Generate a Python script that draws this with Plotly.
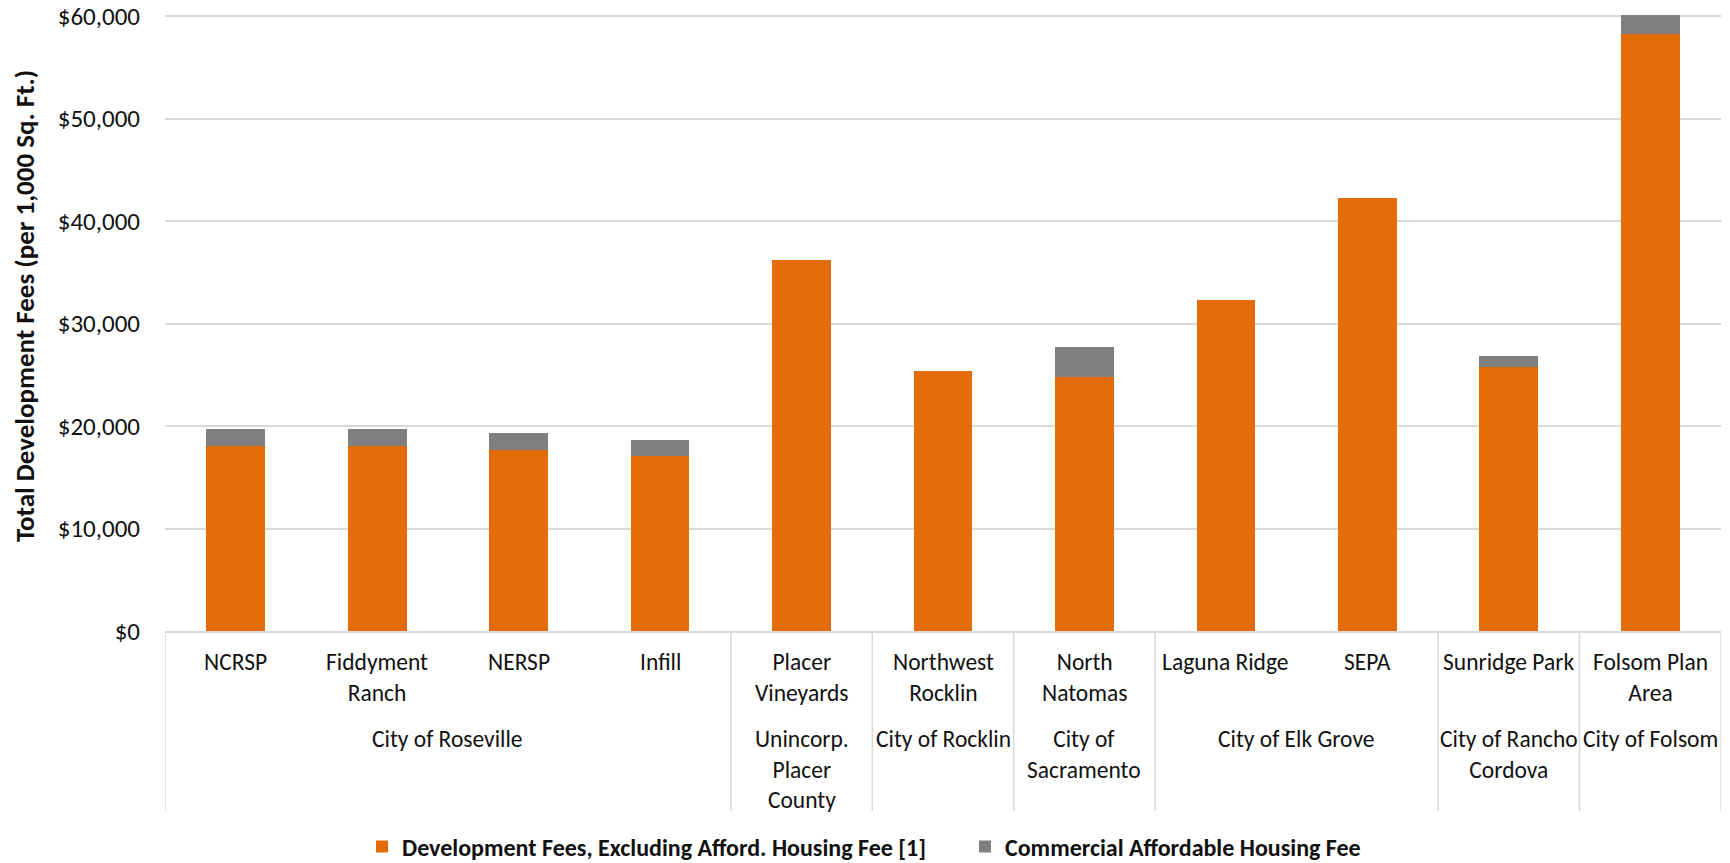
import plotly.graph_objects as go

# ---- data ----
areas = ["NCRSP", "Fiddyment Ranch", "NERSP", "Infill", "Placer Vineyards",
         "Northwest Rocklin", "North Natomas", "Laguna Ridge", "SEPA",
         "Sunridge Park", "Folsom Plan Area"]
area_labels = ["NCRSP", "Fiddyment<br>Ranch", "NERSP", "Infill", "Placer<br>Vineyards",
               "Northwest<br>Rocklin", "North<br>Natomas", "Laguna Ridge", "SEPA",
               "Sunridge Park", "Folsom Plan<br>Area"]
jurisdictions = ["City of Roseville", "City of Roseville", "City of Roseville", "City of Roseville",
                 "Unincorp. Placer County", "City of Rocklin", "City of Sacramento",
                 "City of Elk Grove", "City of Elk Grove", "City of Rancho Cordova",
                 "City of Folsom"]
jurisdiction_labels = {
    "City of Roseville": "City of Roseville",
    "Unincorp. Placer County": "Unincorp.<br>Placer<br>County",
    "City of Rocklin": "City of Rocklin",
    "City of Sacramento": "City of<br>Sacramento",
    "City of Elk Grove": "City of Elk Grove",
    "City of Rancho Cordova": "City of Rancho<br>Cordova",
    "City of Folsom": "City of Folsom",
}
dev_fees = [18100, 18100, 17700, 17050, 36170, 25380, 24760, 32330, 42220, 25740, 58260]
afford_fees = [1570, 1570, 1600, 1600, 0, 0, 2960, 0, 0, 1130, 1860]
y_ticks = [0, 10000, 20000, 30000, 40000, 50000, 60000]
y_tick_text = ["$0", "$10,000", "$20,000", "$30,000", "$40,000", "$50,000", "$60,000"]

series_names = ["Development Fees, Excluding Afford. Housing Fee [1]",
                "Commercial Affordable Housing Fee"]

# ---- style ----
FONT = "Carlito, Calibri, Lato, sans-serif"
ORANGE = "#E36C09"
GRAY = "#7F7F7F"
GRID = "#D9D9D9"
TXT = "#111111"

W, H = 1730, 863
ML, MR, MT, MB = 165, 9, 13, 232
PH = H - MT - MB
PW = W - ML - MR


def ypaper(px):
    return (H - MB - px) / PH


fig = go.Figure()
fig.add_bar(x=areas, y=dev_fees, name=series_names[0], marker_color=ORANGE,
            marker_line_width=0, width=0.415)
fig.add_bar(x=areas, y=afford_fees, name=series_names[1], marker_color=GRAY,
            marker_line_width=0, width=0.415)

annotations = []
for i, lab in enumerate(area_labels):
    annotations.append(dict(x=i, xref="x", y=ypaper(646), yref="paper", text=lab,
                            showarrow=False, xanchor="center", yanchor="top",
                            font=dict(family=FONT, size=23.5, color=TXT)))

# groups
groups = []
for i, j in enumerate(jurisdictions):
    if groups and groups[-1][0] == j:
        groups[-1][2] = i
    else:
        groups.append([j, i, i])

shapes = []
for j, s, e in groups:
    annotations.append(dict(x=(s + e) / 2, xref="x", y=ypaper(723), yref="paper",
                            text=jurisdiction_labels[j], showarrow=False,
                            xanchor="center", yanchor="top",
                            font=dict(family=FONT, size=23.5, color=TXT)))
    shapes.append(dict(type="line", xref="x", yref="paper", x0=s - 0.5, x1=s - 0.5,
                       y0=0, y1=ypaper(811), line=dict(color=GRID, width=1.5)))
shapes.append(dict(type="line", xref="x", yref="paper", x0=len(areas) - 0.5,
                   x1=len(areas) - 0.5, y0=0, y1=ypaper(811),
                   line=dict(color=GRID, width=1.5)))

# y-axis title
annotations.append(dict(x=(24 - ML) / PW, xref="paper", y=ypaper(306), yref="paper",
                        text="Total Development Fees (per 1,000 Sq. Ft.)", textangle=-90,
                        showarrow=False, xanchor="center", yanchor="middle",
                        font=dict(family=FONT, size=27, color=TXT, weight="bold")))

fig.update_layout(
    width=W, height=H,
    margin=dict(l=ML, r=MR, t=MT, b=MB, autoexpand=False),
    barmode="stack",
    plot_bgcolor="white", paper_bgcolor="white",
    font=dict(family=FONT, size=23.5, color=TXT),
    annotations=annotations,
    shapes=shapes,
    showlegend=True,
    legend=dict(orientation="h", x=(965 - ML) / PW, xanchor="center",
                y=ypaper(847), yanchor="middle",
                font=dict(family=FONT, size=24, color=TXT, weight="bold"),
                traceorder="normal", itemwidth=30,
                entrywidth=558, entrywidthmode="pixels"),
    xaxis=dict(range=[-0.5, len(areas) - 0.5], showticklabels=False, showgrid=False,
               showline=True, linecolor=GRID, linewidth=1.5, ticks="", zeroline=False),
    yaxis=dict(range=[0, 60300], tickvals=y_ticks, ticktext=y_tick_text,
               showgrid=True, gridcolor=GRID, gridwidth=1.5, zeroline=False,
               showline=False, ticks="", ticklabelstandoff=24,
               tickfont=dict(family=FONT, size=25, color=TXT)),
)

fig.write_html("out.html")
